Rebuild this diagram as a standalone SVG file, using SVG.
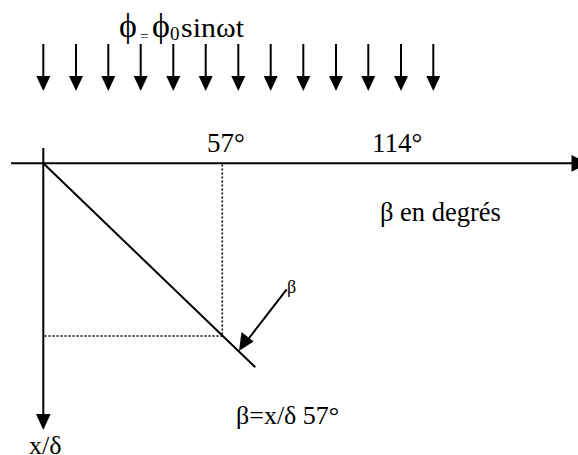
<svg xmlns="http://www.w3.org/2000/svg" width="578" height="455" viewBox="0 0 578 455">
<style>
text{font-family:"Liberation Serif","DejaVu Serif","Noto Serif",serif}
.ln{stroke:#000;stroke-width:2;fill:none}
.dot{stroke:#000;stroke-width:1.5;stroke-dasharray:2 2;fill:none}
.hd{fill:#000}
</style>
<defs>
<g id="down"><line x1="0" y1="44" x2="0" y2="78" class="ln"/><polygon points="-7,76 7,76 0,91" class="hd"/></g>
</defs>
<g fill="#000">
<g id="flux">
<text x="119" y="37" font-size="34">ϕ<tspan x="140" font-size="15" dy="4">=</tspan><tspan x="152" dy="-4" font-size="34">ϕ</tspan><tspan font-size="19" dy="3">0</tspan><tspan x="181" dy="-3" font-size="28" textLength="63" lengthAdjust="spacingAndGlyphs">sinωt</tspan></text>
<use href="#down" x="43.3"/><use href="#down" x="76"/><use href="#down" x="108.3"/><use href="#down" x="140.7"/><use href="#down" x="173.3"/><use href="#down" x="205.7"/><use href="#down" x="238.3"/><use href="#down" x="270.7"/><use href="#down" x="303.3"/><use href="#down" x="336"/><use href="#down" x="368.3"/><use href="#down" x="401"/><use href="#down" x="433.3"/>
</g>
<g id="axes">
<line x1="11" y1="163.3" x2="574" y2="163.3" class="ln"/>
<polygon points="571.5,155 571.5,171.7 588,163.3" class="hd"/>
<line x1="43.3" y1="148" x2="43.3" y2="416" class="ln"/>
<polygon points="36,414 50.6,414 43.3,430" class="hd"/>
<text x="207" y="152" font-size="27">57°</text>
<text x="372" y="152" font-size="27">114°</text>
<text x="380" y="221" font-size="26.5">β en degrés</text>
<text x="29" y="454" font-size="26">x/δ</text>
</g>
<g id="graph">
<line x1="43.3" y1="163.3" x2="255.3" y2="367.3" class="ln"/>
<line x1="222.3" y1="164.5" x2="222.3" y2="336" class="dot"/>
<line x1="44.5" y1="336" x2="222.3" y2="336" class="dot"/>
</g>
<g id="connectors">
<line x1="286.7" y1="289.3" x2="246" y2="342" class="ln"/>
<polygon points="239,351 241.5,332 253.5,341.5" class="hd"/>
<text x="287" y="293" font-size="18">β</text>
<text x="236" y="424" font-size="26">β=x/δ 57°</text>
</g>
</g>
</svg>
